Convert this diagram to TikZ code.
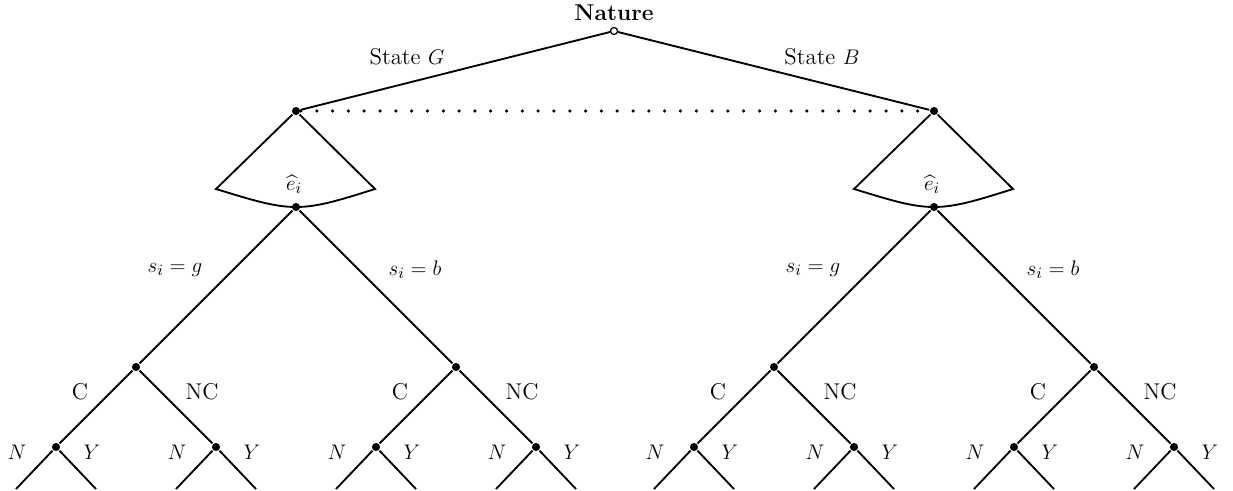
\documentclass[tikz,border=0pt]{standalone}
\usepackage{amsmath}
\usetikzlibrary{calc}

\begin{document}
\begin{tikzpicture}[x=0.02cm,y=-0.02cm,line width=1.05pt,
  every node/.style={font=\fontsize{13}{15}\selectfont},
  dec/.style={circle,fill,inner sep=0pt,minimum size=4.6pt},
  chance/.style={circle,draw,fill=white,inner sep=0pt,minimum size=4pt,line width=0.7pt},
  info/.style={line width=2pt,line cap=round,dash pattern=on 0pt off 9pt}]
\useasboundingbox (0,0) rectangle (1233,490);
% nature and the two states
\node[chance] (nat) at (614,31) {};
\node[font=\fontsize{13}{15}\selectfont\bfseries] (natlab) at (614,13) {Nature};
\node[dec] (g) at (296,111) {};
\node[dec] (b) at (934,111) {};
\draw (nat) -- (g);
\draw (nat) -- (b);
\node (stg) at (407,57) {State $G$};
\node (stb) at (822,57) {State $B$};
\draw[info] (g) -- (b);
% one subtree per state
\foreach \s/\dx in {g/0,b/638}{
\begin{scope}[shift={(\dx,0)}]
  \coordinate (l\s) at (216,189);
  \coordinate (r\s) at (375,189);
  \node[dec] (e\s) at (296,207) {};
  \draw (\s) -- (l\s) .. controls (252,200) and (274,207) .. (e\s.center)
        .. controls (318,207) and (340,200) .. (r\s) -- (\s);
  \node (hat\s) at (294,184) {$\widehat{e}_i$};
  \node[dec] (c\s) at (136,367) {};
  \node[dec] (nc\s) at (456,367) {};
  \draw (e\s) -- (c\s);
  \draw (e\s) -- (nc\s);
  \node (sg\s) at (175,270) {$s_i=g$};
  \node (sb\s) at (415,270) {$s_i=b$};
  \foreach \x/\k/\lab in {80/1/C,202/2/NC,400/3/C,522/4/NC}
    \node (cl\s\k) at (\x,392) {\lab};
  \foreach \x/\k/\p in {56/1/c,216/2/c,376/3/nc,536/4/nc}{
    \node[dec] (v\s\k) at (\x,447) {};
    \draw (\p\s) -- (v\s\k);
    \coordinate (vl\s\k) at (\x-40,489);
    \coordinate (vr\s\k) at (\x+40,489);
    \draw (v\s\k) -- (vl\s\k);
    \draw (v\s\k) -- (vr\s\k);
    \node (n\s\k) at (\x-39,452) {$N$};
    \node (y\s\k) at (\x+36,452) {$Y$};
  }
\end{scope}}
\end{tikzpicture}
\end{document}
